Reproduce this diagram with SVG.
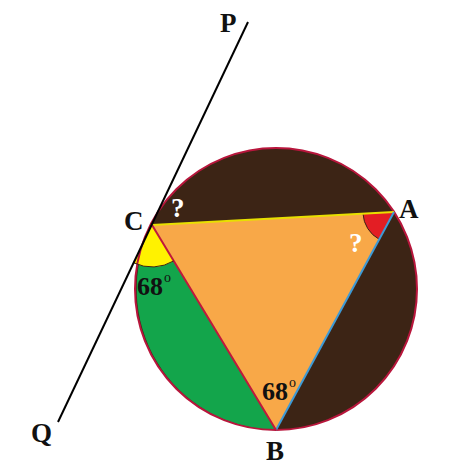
<svg xmlns="http://www.w3.org/2000/svg" width="474" height="474" viewBox="0 0 474 474">
<style>
.lbl{font-family:"Liberation Serif","Times New Roman",serif;font-weight:bold;font-size:27px;fill:#111}
.q{font-family:"Liberation Serif","Times New Roman",serif;font-weight:bold;font-size:27px;fill:#fff}
.deg{font-family:"Liberation Serif","Times New Roman",serif;font-weight:bold;font-size:26px;fill:#111}
</style>
<rect width="474" height="474" fill="#fff"/>
<g id="circle">
<circle cx="276" cy="289" r="141" fill="#3c2415"/>
</g>
<g id="green-segment">
<path d="M152,225 L276,430 A141,141 0 0 1 152,225 Z" fill="#13a54b"/>
</g>
<g id="triangle">
<polygon points="152,225 394,212 276,430" fill="#f8a848"/>
</g>
<g id="angle-C">
<path d="M152,225 L133.9,262.9 A42,42 0 0 0 173.7,260.9 Z" fill="#fff200"/>
</g>
<g id="angle-A">
<path d="M394,212 L363,213.7 A31,31 0 0 0 379.2,239.3 Z" fill="#e31e24"/>
<path d="M363,213.7 A31,31 0 0 0 379.2,239.3" fill="none" stroke="#3c2415" stroke-width="1"/>
</g>
<g id="connectors">
<circle cx="276" cy="289" r="141" fill="none" stroke="#b8163c" stroke-width="2"/>
<line x1="152" y1="225" x2="394" y2="212" stroke="#e8e000" stroke-width="2"/>
<line x1="394" y1="212" x2="276" y2="430" stroke="#3d9ad6" stroke-width="2"/>
<line x1="152" y1="225" x2="276" y2="430" stroke="#c0183c" stroke-width="2"/>
<path d="M133.9,262.9 A42,42 0 0 0 173.7,260.9" fill="none" stroke="#3c2415" stroke-width="1"/>
<line x1="248" y1="22" x2="58" y2="422" stroke="#000" stroke-width="2"/>
</g>
<g id="labels">
<text class="lbl" x="220" y="32">P</text>
<text class="lbl" x="31" y="442">Q</text>
<text class="lbl" x="124" y="230">C</text>
<text class="lbl" x="399" y="218">A</text>
<text class="lbl" x="266" y="460">B</text>
<text class="q" x="171" y="217">?</text>
<text class="q" x="349" y="252">?</text>
<text class="deg" x="137" y="295">68</text>
<text class="deg" x="164" y="282" style="font-size:14px;font-weight:normal">o</text>
<text class="deg" x="262" y="400">68</text>
<text class="deg" x="289" y="387" style="font-size:14px;font-weight:normal">o</text>
</g>
</svg>
